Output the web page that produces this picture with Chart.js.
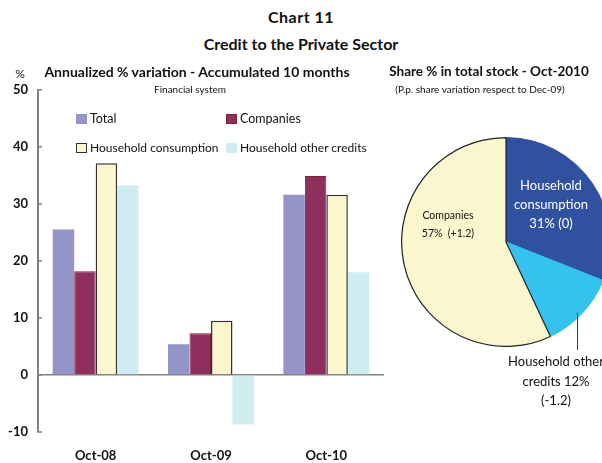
<!DOCTYPE html>
<html>
<head>
<meta charset="utf-8">
<script src="https://cdn.jsdelivr.net/npm/chart.js@4.4.0/dist/chart.umd.min.js"></script>
<style>
  html, body { margin:0; padding:0; background:#fff; }
  #wrap { position:relative; width:602px; height:463px; overflow:hidden; background:#fff; font-family:"Lato","Open Sans",sans-serif; color:#111; }
  .t { position:absolute; white-space:nowrap; transform:translate(-50%,-50%); line-height:1; }
  .l { position:absolute; white-space:nowrap; transform:translate(0,-50%); line-height:1; }
  .sw { position:absolute; box-sizing:border-box; }
  canvas { position:absolute; }
</style>
</head>
<body>
<div id="wrap">
  <canvas id="bar" width="392" height="391" style="left:0;top:72px;width:392px;height:391px;"></canvas>
  <canvas id="pie" width="210" height="210" style="left:401px;top:137px;width:210px;height:210px;"></canvas>

  <div class="t" style="left:301px;top:17px;font-size:16px;font-weight:bold;letter-spacing:0.5px;">Chart 11</div>
  <div class="t" style="left:301px;top:44px;font-size:16px;font-weight:bold;">Credit to the Private Sector</div>

  <div class="t" style="left:20px;top:74px;font-size:12px;">%</div>
  <div class="t" style="left:197px;top:72px;font-size:14px;font-weight:bold;">Annualized % variation - Accumulated 10 months</div>
  <div class="t" style="left:190px;top:89px;font-size:10px;">Financial system</div>

  <div class="t" style="left:489px;top:72px;font-size:13.5px;font-weight:bold;">Share % in total stock - Oct-2010</div>
  <div class="t" style="left:480px;top:89px;font-size:10px;">(P.p. share variation respect to Dec-09)</div>

  <!-- legend -->
  <div class="sw" style="left:76px;top:114px;width:11px;height:10px;background:#9494C8;"></div>
  <div class="l" style="left:90px;top:119px;font-size:12.5px;">Total</div>
  <div class="sw" style="left:226px;top:114px;width:11px;height:10px;background:#8E2F5E;border:1px solid #7a2430;"></div>
  <div class="l" style="left:240px;top:119px;font-size:12.5px;">Companies</div>
  <div class="sw" style="left:76px;top:143px;width:11px;height:10px;background:#FAF7CF;border:1px solid #333;"></div>
  <div class="l" style="left:90px;top:148px;font-size:12px;">Household consumption</div>
  <div class="sw" style="left:226px;top:143px;width:11px;height:10px;background:#CFECF0;"></div>
  <div class="l" style="left:240px;top:148px;font-size:12px;">Household other credits</div>

  <!-- pie labels -->
  <div class="t" style="left:551px;top:185px;font-size:13px;color:#fff;">Household</div>
  <div class="t" style="left:551px;top:204px;font-size:13px;color:#fff;">consumption</div>
  <div class="t" style="left:551px;top:223px;font-size:13px;color:#fff;">31% (0)</div>

  <div class="t" style="left:448px;top:215px;font-size:10.5px;">Companies</div>
  <div class="t" style="left:448px;top:233px;font-size:10.5px;">57%&nbsp;&nbsp;(+1.2)</div>

  <div style="position:absolute;left:577px;top:313px;width:1px;height:37px;background:#333;"></div>
  <div class="t" style="left:556px;top:361px;font-size:13px;">Household other</div>
  <div class="t" style="left:556px;top:381px;font-size:13px;">credits 12%</div>
  <div class="t" style="left:556px;top:400px;font-size:13px;">(-1.2)</div>
</div>

<script>
// ---- data ----
const categories = ["Oct-08", "Oct-09", "Oct-10"];
const totalVals = [25.5, 5.4, 31.6];
const companiesVals = [18.2, 7.3, 34.9];
const hhConsumptionVals = [37.1, 9.5, 31.6];
const hhOtherVals = [33.2, -8.7, 18.0];
const yTicks = [-10, 0, 10, 20, 30, 40, 50];

const pieLabels = ["Household consumption", "Household other credits", "Companies"];
const pieShares = [31, 12, 57];

const FONT = "Lato, 'Open Sans', sans-serif";

const innerTicks = {
  id: 'innerTicks',
  afterDraw(chart) {
    const y = chart.scales.y;
    const ctx = chart.ctx;
    ctx.save();
    ctx.strokeStyle = '#808080';
    ctx.lineWidth = 1.5;
    yTicks.forEach(v => {
      const py = y.getPixelForValue(v);
      ctx.beginPath();
      ctx.moveTo(y.right - 1, py);
      ctx.lineTo(y.right + 4, py);
      ctx.stroke();
    });
    ctx.restore();
  }
};

new Chart(document.getElementById('bar'), {
  type: 'bar',
  data: {
    labels: categories,
    datasets: [
      { label: 'Total', data: totalVals, backgroundColor: '#9494C8', borderWidth: 0 },
      { label: 'Companies', data: companiesVals, backgroundColor: '#8E2F5E', borderColor: '#7a2430', borderWidth: 1 },
      { label: 'Household consumption', data: hhConsumptionVals, backgroundColor: '#FAF7CF', borderColor: '#333333', borderWidth: 1.5 },
      { label: 'Household other credits', data: hhOtherVals, backgroundColor: '#CFECF0', borderWidth: 0 }
    ]
  },
  options: {
    responsive: false,
    animation: false,
    events: [],
    layout: { padding: { top: 1, right: 8, left: 0, bottom: 0 } },
    datasets: { bar: { categoryPercentage: 0.745, barPercentage: 1.0 } },
    plugins: { legend: { display: false }, tooltip: { enabled: false } },
    scales: {
      x: {
        grid: { display: false, drawTicks: false },
        border: { display: false },
        ticks: { color: '#111', font: { family: FONT, size: 13, weight: 'bold' }, padding: 16, maxRotation: 0 },
        afterFit(s) { s.height = 31; }
      },
      y: {
        min: -10, max: 50,
        afterBuildTicks(s) { s.ticks = yTicks.map(v => ({ value: v })); },
        grid: {
          drawTicks: false,
          color: ctx => (ctx.tick && ctx.tick.value === 0) ? '#808080' : 'rgba(0,0,0,0)',
          lineWidth: ctx => (ctx.tick && ctx.tick.value === 0) ? 1.5 : 0
        },
        border: { display: true, color: '#808080', width: 2 },
        ticks: { color: '#111', font: { family: FONT, size: 13, weight: 'bold' }, padding: 10 },
        afterFit(s) { s.width = 38; }
      }
    }
  },
  plugins: [innerTicks]
});

new Chart(document.getElementById('pie'), {
  type: 'pie',
  data: {
    labels: pieLabels,
    datasets: [{
      data: pieShares,
      backgroundColor: ['#3050A0', '#33C3EE', '#FAF7CF'],
      borderColor: ['#3050A0', '#33C3EE', '#222222'],
      borderWidth: [1, 1, 1.2]
    }]
  },
  options: {
    responsive: false,
    animation: false,
    events: [],
    layout: { padding: 0 },
    plugins: { legend: { display: false }, tooltip: { enabled: false } }
  }
});
</script>
</body>
</html>
